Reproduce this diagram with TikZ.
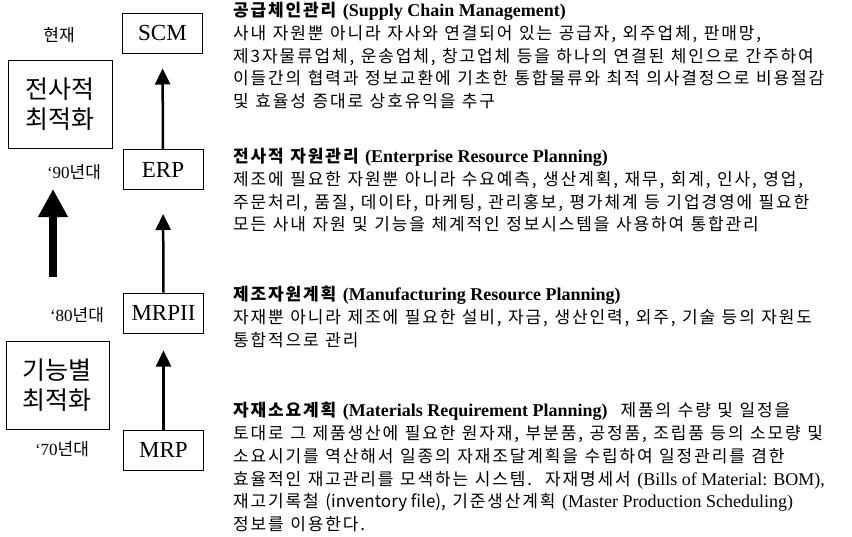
\documentclass[tikz,border=0pt]{standalone}
\usepackage{fontspec}
\setmainfont{Noto Sans CJK KR}[LetterSpace=11, WordSpace=1.15]
\newfontfamily\plainkr{Noto Sans CJK KR}
\newfontfamily\tm{Liberation Serif}
\usetikzlibrary{arrows.meta}
\tikzset{
  stage/.style={draw, line width=1pt, minimum width=80pt, minimum height=40pt, inner sep=0pt, font=\tm\fontsize{23}{23}\selectfont},
  era/.style={draw, line width=1pt, minimum width=104pt, minimum height=88pt, inner sep=0pt, align=center, font=\plainkr\fontsize{25}{30}\selectfont},
  yr/.style={inner sep=0pt, font=\plainkr\fontsize{17}{18}\selectfont},
  desc/.style={anchor=north west, inner sep=0pt, align=left, font=\fontsize{17}{22.8}\selectfont},
  arr/.style={line width=2.5pt, -{Triangle[width=15pt,length=16pt]}},
  bigarr/.style={line width=8pt, -{Triangle[width=28pt,length=28pt]}}
}
\newcommand{\en}{\tm\fontsize{18}{22.8}\selectfont}
\begin{document}
\begin{tikzpicture}[x=1pt,y=-1pt]
\useasboundingbox (0,0) rectangle (852,536);
% stage boxes
\node[stage] (scm) at (162.5,33) {SCM};
\node[stage] (erp) at (163,169.5) {ERP};
\node[stage] (mrp2) at (163.5,313) {MRPII};
\node[stage] (mrp) at (163.5,450) {MRP};
% era boxes
\node[era] (ent) at (60,104) {전사적\\최적화};
\node[era, minimum width=103pt] (fun) at (57.5,385) {기능별\\최적화};
% year labels
\node[yr] (now) at (59,35) {현재};
\node[yr] (y90) at (74,172) {{\tm ‘90}년대};
\node[yr] (y80) at (77,315) {{\tm ‘80}년대};
\node[yr] (y70) at (62,449) {{\tm ‘70}년대};
% arrows
\draw[arr, shorten >=15pt] (erp.north) -- (scm.south);
\draw[arr, shorten >=24pt] (mrp2.north) -- (erp.south);
\draw[arr, shorten >=17pt] (mrp.north) -- (mrp2.south);
\coordinate (b0) at (53,277);
\coordinate (b1) at (53,189);
\draw[bigarr] (b0) -- (b1);
% descriptions
\node[desc] (dscm) at (233,2) {{\bfseries 공급체인관리} {\en\bfseries (Supply Chain Management)}\\
사내 자원뿐 아니라 자사와 연결되어 있는 공급자, 외주업체, 판매망,\\
제3자물류업체, 운송업체, 창고업체 등을 하나의 연결된 체인으로 간주하여\\
이들간의 협력과 정보교환에 기초한 통합물류와 최적 의사결정으로 비용절감\\
및 효율성 증대로 상호유익을 추구};
\node[desc] (derp) at (233,148) {{\bfseries 전사적 자원관리} {\en\bfseries (Enterprise Resource Planning)}\\
제조에 필요한 자원뿐 아니라 수요예측, 생산계획, 재무, 회계, 인사, 영업,\\
주문처리, 품질, 데이타, 마케팅, 관리홍보, 평가체계 등 기업경영에 필요한\\
모든 사내 자원 및 기능을 체계적인 정보시스템을 사용하여 통합관리};
\node[desc] (dmrp2) at (233,286) {{\bfseries 제조자원계획} {\en\bfseries (Manufacturing Resource Planning)}\\
자재뿐 아니라 제조에 필요한 설비, 자금, 생산인력, 외주, 기술 등의 자원도\\
통합적으로 관리};
\node[desc] (dmrp) at (233,402) {{\bfseries 자재소요계획} {\en\bfseries (Materials Requirement Planning)}\ \ 제품의 수량 및 일정을\\
토대로 그 제품생산에 필요한 원자재, 부분품, 공정품, 조립품 등의 소모량 및\\
소요시기를 역산해서 일종의 자재조달계획을 수립하여 일정관리를 겸한\\
효율적인 재고관리를 모색하는 시스템.\ \ 자재명세서 {\en (Bills of Material: BOM),}\\
재고기록철 {\plainkr (inventory file)}, 기준생산계획 {\en (Master Production Scheduling)}\\
정보를 이용한다.};
\end{tikzpicture}
\end{document}
